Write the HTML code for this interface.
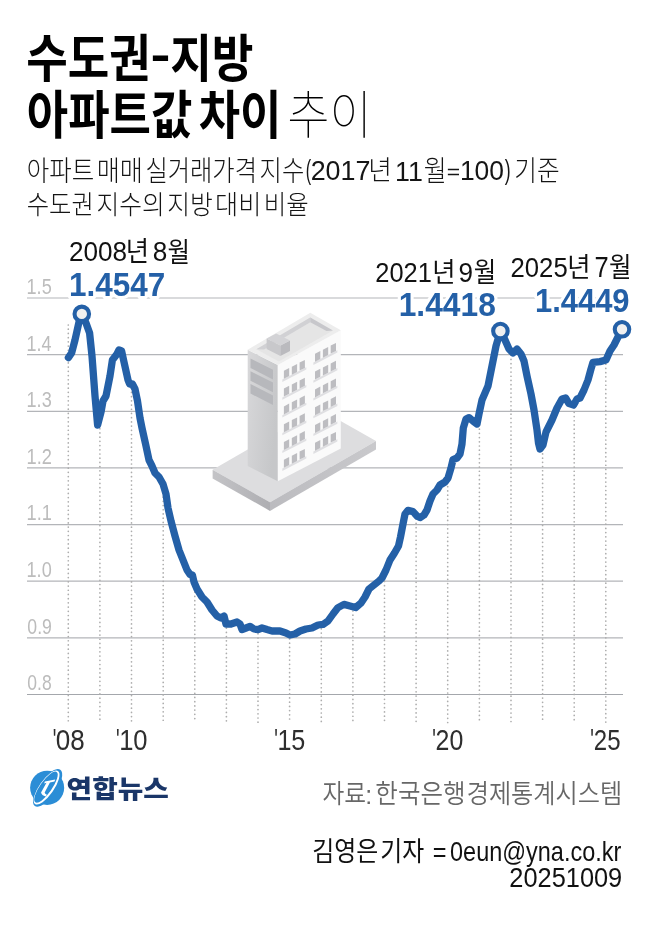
<!DOCTYPE html>
<html lang="ko">
<head>
<meta charset="utf-8">
<title>수도권-지방 아파트값 차이 추이</title>
<style>
html,body{margin:0;padding:0;background:#fff;}
body{width:650px;height:949px;overflow:hidden;}
svg{display:block;}
svg text{font-family:"Liberation Sans", "Noto Sans CJK KR", sans-serif;white-space:pre;}
</style>
</head>
<body>
<svg width="650" height="949" viewBox="0 0 650 949" role="img" aria-label="수도권-지방 아파트값 차이 추이">
<rect width="650" height="949" fill="#ffffff"/>
<g id="grid">
<line x1="27.0" x2="623.0" y1="298.0" y2="298.0" stroke="#b3b5b9" stroke-width="1.2"/>
<line x1="27.0" x2="623.0" y1="354.64" y2="354.64" stroke="#b3b5b9" stroke-width="1.2"/>
<line x1="27.0" x2="623.0" y1="411.3" y2="411.3" stroke="#b3b5b9" stroke-width="1.2"/>
<line x1="27.0" x2="623.0" y1="467.9" y2="467.9" stroke="#b3b5b9" stroke-width="1.2"/>
<line x1="27.0" x2="623.0" y1="524.6" y2="524.6" stroke="#b3b5b9" stroke-width="1.2"/>
<line x1="27.0" x2="623.0" y1="581.2" y2="581.2" stroke="#b3b5b9" stroke-width="1.2"/>
<line x1="27.0" x2="623.0" y1="637.86" y2="637.86" stroke="#b3b5b9" stroke-width="1.2"/>
<line x1="27.0" x2="623.0" y1="694.5" y2="694.5" stroke="#a4a7ac" stroke-width="1.2"/>
<line x1="68.3" x2="68.3" y1="325.0" y2="722.6" stroke="#adadad" stroke-width="1.7" stroke-dasharray="0.01 4.2" stroke-linecap="round"/>
<line x1="99.9" x2="99.9" y1="416.1" y2="722.6" stroke="#adadad" stroke-width="1.7" stroke-dasharray="0.01 4.2" stroke-linecap="round"/>
<line x1="131.5" x2="131.5" y1="384.0" y2="722.6" stroke="#adadad" stroke-width="1.7" stroke-dasharray="0.01 4.2" stroke-linecap="round"/>
<line x1="163.2" x2="163.2" y1="484.5" y2="722.6" stroke="#adadad" stroke-width="1.7" stroke-dasharray="0.01 4.2" stroke-linecap="round"/>
<line x1="194.8" x2="194.8" y1="583.8" y2="722.6" stroke="#adadad" stroke-width="1.7" stroke-dasharray="0.01 4.2" stroke-linecap="round"/>
<line x1="226.4" x2="226.4" y1="624.0" y2="722.6" stroke="#adadad" stroke-width="1.7" stroke-dasharray="0.01 4.2" stroke-linecap="round"/>
<line x1="258.0" x2="258.0" y1="629.6" y2="722.6" stroke="#adadad" stroke-width="1.7" stroke-dasharray="0.01 4.2" stroke-linecap="round"/>
<line x1="289.6" x2="289.6" y1="634.8" y2="722.6" stroke="#adadad" stroke-width="1.7" stroke-dasharray="0.01 4.2" stroke-linecap="round"/>
<line x1="321.3" x2="321.3" y1="624.6" y2="722.6" stroke="#adadad" stroke-width="1.7" stroke-dasharray="0.01 4.2" stroke-linecap="round"/>
<line x1="352.9" x2="352.9" y1="606.8" y2="722.6" stroke="#adadad" stroke-width="1.7" stroke-dasharray="0.01 4.2" stroke-linecap="round"/>
<line x1="384.5" x2="384.5" y1="573.0" y2="722.6" stroke="#adadad" stroke-width="1.7" stroke-dasharray="0.01 4.2" stroke-linecap="round"/>
<line x1="416.1" x2="416.1" y1="515.0" y2="722.6" stroke="#adadad" stroke-width="1.7" stroke-dasharray="0.01 4.2" stroke-linecap="round"/>
<line x1="447.7" x2="447.7" y1="478.3" y2="722.6" stroke="#adadad" stroke-width="1.7" stroke-dasharray="0.01 4.2" stroke-linecap="round"/>
<line x1="479.4" x2="479.4" y1="412.3" y2="722.6" stroke="#adadad" stroke-width="1.7" stroke-dasharray="0.01 4.2" stroke-linecap="round"/>
<line x1="511.0" x2="511.0" y1="351.0" y2="722.6" stroke="#adadad" stroke-width="1.7" stroke-dasharray="0.01 4.2" stroke-linecap="round"/>
<line x1="542.6" x2="542.6" y1="445.5" y2="722.6" stroke="#adadad" stroke-width="1.7" stroke-dasharray="0.01 4.2" stroke-linecap="round"/>
<line x1="574.2" x2="574.2" y1="403.9" y2="722.6" stroke="#adadad" stroke-width="1.7" stroke-dasharray="0.01 4.2" stroke-linecap="round"/>
<line x1="605.8" x2="605.8" y1="360.0" y2="722.6" stroke="#adadad" stroke-width="1.7" stroke-dasharray="0.01 4.2" stroke-linecap="round"/>
</g>
<g id="building">
<defs><linearGradient id="gLeft" x1="0" y1="0" x2="1" y2="0.4"><stop offset="0" stop-color="#d8d8da"/><stop offset="1" stop-color="#c6c7c9"/></linearGradient><linearGradient id="gSlabL" x1="0" y1="0" x2="1" y2="0"><stop offset="0" stop-color="#c4c4c7"/><stop offset="1" stop-color="#aeaeb2"/></linearGradient><linearGradient id="gSlabR" x1="0" y1="0" x2="1" y2="0"><stop offset="0" stop-color="#bbbbbf"/><stop offset="1" stop-color="#c9c9cc"/></linearGradient></defs>
<polygon points="212.6,469.8 318.6,408.5 376.0,441.0 270.0,502.3" fill="#dddddf"/>
<polygon points="212.6,469.8 270.0,502.3 270.0,510.9 212.6,478.4" fill="url(#gSlabL)"/>
<polygon points="270.0,502.3 376.0,441.0 376.0,449.6 270.0,510.9" fill="url(#gSlabR)"/>
<polygon points="247.7,349.7 277.8,365.0 277.8,481.3 247.7,466.0" fill="url(#gLeft)"/>
<polygon points="277.8,365.0 340.8,330.2 340.8,448.6 277.8,481.3" fill="#fafafa"/>
<polygon points="247.7,349.7 310.3,312.7 340.8,330.2 277.8,365.0" fill="#ededed"/>
<polygon points="256.4,349.3 310.3,317.6 332.9,330.4 278.8,361.5" fill="#e5e5e5"/>
<polygon points="256.4,349.3 310.3,317.6 310.3,322.2 264.0,349.5" fill="#d1d1d4"/>
<polygon points="310.3,317.6 332.9,330.4 326.5,331.0 310.3,322.2" fill="#c7c7cb"/>
<polygon points="266.6,338.6 280.4,345.6 280.4,355.9 266.6,348.9" fill="#c8c8cb"/>
<polygon points="280.4,345.6 290.0,340.6 290.0,350.9 280.4,355.9" fill="#bababe"/>
<polygon points="266.6,338.6 276.2,333.6 290.0,340.6 280.4,345.6" fill="#d3d3d6"/>
<polygon points="250.5,358.4 273.0,369.8 273.0,379.4 250.5,368.0" fill="#b7b8bc"/>
<polygon points="250.5,371.2 273.0,382.6 273.0,392.2 250.5,380.8" fill="#b7b8bc"/>
<polygon points="250.5,384.0 273.0,395.4 273.0,405.0 250.5,393.6" fill="#b7b8bc"/>
<polygon points="282.3,379.6 306.3,367.2 306.3,369.5 282.3,381.9" fill="#dfdfe2"/>
<polygon points="283.9,370.8 289.2,368.0 289.2,376.0 283.9,378.8" fill="#bdbdc1"/>
<polygon points="291.8,366.7 297.1,364.0 297.1,372.0 291.8,374.7" fill="#bdbdc1"/>
<polygon points="299.6,362.6 304.9,359.9 304.9,367.9 299.6,370.6" fill="#bdbdc1"/>
<polygon points="282.3,397.4 306.3,385.0 306.3,387.3 282.3,399.7" fill="#dfdfe2"/>
<polygon points="283.9,388.6 289.2,385.8 289.2,393.8 283.9,396.6" fill="#bdbdc1"/>
<polygon points="291.8,384.5 297.1,381.8 297.1,389.8 291.8,392.5" fill="#bdbdc1"/>
<polygon points="299.6,380.4 304.9,377.7 304.9,385.7 299.6,388.4" fill="#bdbdc1"/>
<polygon points="282.3,415.2 306.3,402.8 306.3,405.1 282.3,417.5" fill="#dfdfe2"/>
<polygon points="283.9,406.4 289.2,403.6 289.2,411.6 283.9,414.4" fill="#bdbdc1"/>
<polygon points="291.8,402.3 297.1,399.6 297.1,407.6 291.8,410.3" fill="#bdbdc1"/>
<polygon points="299.6,398.2 304.9,395.5 304.9,403.5 299.6,406.2" fill="#bdbdc1"/>
<polygon points="282.3,433.0 306.3,420.6 306.3,422.9 282.3,435.3" fill="#dfdfe2"/>
<polygon points="283.9,424.2 289.2,421.4 289.2,429.4 283.9,432.2" fill="#bdbdc1"/>
<polygon points="291.8,420.1 297.1,417.4 297.1,425.4 291.8,428.1" fill="#bdbdc1"/>
<polygon points="299.6,416.0 304.9,413.3 304.9,421.3 299.6,424.0" fill="#bdbdc1"/>
<polygon points="282.3,450.8 306.3,438.4 306.3,440.7 282.3,453.1" fill="#dfdfe2"/>
<polygon points="283.9,442.0 289.2,439.2 289.2,447.2 283.9,450.0" fill="#bdbdc1"/>
<polygon points="291.8,437.9 297.1,435.2 297.1,443.2 291.8,445.9" fill="#bdbdc1"/>
<polygon points="299.6,433.8 304.9,431.1 304.9,439.1 299.6,441.8" fill="#bdbdc1"/>
<polygon points="282.3,468.6 306.3,456.2 306.3,458.5 282.3,470.9" fill="#dfdfe2"/>
<polygon points="283.9,459.8 289.2,457.0 289.2,465.0 283.9,467.8" fill="#bdbdc1"/>
<polygon points="291.8,455.7 297.1,453.0 297.1,461.0 291.8,463.7" fill="#bdbdc1"/>
<polygon points="299.6,451.6 304.9,448.9 304.9,456.9 299.6,459.6" fill="#bdbdc1"/>
<polygon points="313.4,362.6 337.4,350.2 337.4,352.5 313.4,364.9" fill="#dfdfe2"/>
<polygon points="315.0,353.8 320.3,351.0 320.3,359.0 315.0,361.8" fill="#bdbdc1"/>
<polygon points="322.9,349.7 328.2,347.0 328.2,355.0 322.9,357.7" fill="#bdbdc1"/>
<polygon points="330.7,345.6 336.0,342.9 336.0,350.9 330.7,353.6" fill="#bdbdc1"/>
<polygon points="313.4,380.4 337.4,368.0 337.4,370.3 313.4,382.7" fill="#dfdfe2"/>
<polygon points="315.0,371.6 320.3,368.8 320.3,376.8 315.0,379.6" fill="#bdbdc1"/>
<polygon points="322.9,367.5 328.2,364.8 328.2,372.8 322.9,375.5" fill="#bdbdc1"/>
<polygon points="330.7,363.4 336.0,360.7 336.0,368.7 330.7,371.4" fill="#bdbdc1"/>
<polygon points="313.4,398.2 337.4,385.8 337.4,388.1 313.4,400.5" fill="#dfdfe2"/>
<polygon points="315.0,389.4 320.3,386.6 320.3,394.6 315.0,397.4" fill="#bdbdc1"/>
<polygon points="322.9,385.3 328.2,382.6 328.2,390.6 322.9,393.3" fill="#bdbdc1"/>
<polygon points="330.7,381.2 336.0,378.5 336.0,386.5 330.7,389.2" fill="#bdbdc1"/>
<polygon points="313.4,416.0 337.4,403.6 337.4,405.9 313.4,418.3" fill="#dfdfe2"/>
<polygon points="315.0,407.2 320.3,404.4 320.3,412.4 315.0,415.2" fill="#bdbdc1"/>
<polygon points="322.9,403.1 328.2,400.4 328.2,408.4 322.9,411.1" fill="#bdbdc1"/>
<polygon points="330.7,399.0 336.0,396.3 336.0,404.3 330.7,407.0" fill="#bdbdc1"/>
<polygon points="313.4,433.8 337.4,421.4 337.4,423.7 313.4,436.1" fill="#dfdfe2"/>
<polygon points="315.0,425.0 320.3,422.2 320.3,430.2 315.0,433.0" fill="#bdbdc1"/>
<polygon points="322.9,420.9 328.2,418.2 328.2,426.2 322.9,428.9" fill="#bdbdc1"/>
<polygon points="330.7,416.8 336.0,414.1 336.0,422.1 330.7,424.8" fill="#bdbdc1"/>
<polygon points="313.4,451.6 337.4,439.2 337.4,441.5 313.4,453.9" fill="#dfdfe2"/>
<polygon points="315.0,442.8 320.3,440.0 320.3,448.0 315.0,450.8" fill="#bdbdc1"/>
<polygon points="322.9,438.7 328.2,436.0 328.2,444.0 322.9,446.7" fill="#bdbdc1"/>
<polygon points="330.7,434.6 336.0,431.9 336.0,439.9 330.7,442.6" fill="#bdbdc1"/>
</g>
<g id="curve">
<path d="M68.4 357.6 L71.6 353.0 L75.0 340.0 L79.0 322.0 L81.8 313.9 L86.0 323.0 L89.6 333.0 L92.0 356.0 L95.0 396.0 L97.6 425.0 L101.0 412.0 L103.0 401.0 L106.0 396.0 L110.0 376.0 L112.4 360.0 L117.0 354.0 L119.0 350.0 L121.6 351.0 L124.0 362.0 L128.0 380.0 L129.6 384.0 L132.4 384.0 L135.0 389.0 L137.5 401.0 L140.0 418.0 L142.0 428.0 L146.0 446.0 L149.0 460.0 L152.0 466.0 L155.0 473.0 L159.0 477.0 L163.0 484.0 L166.0 494.0 L168.0 508.0 L171.0 521.0 L175.0 536.0 L179.0 550.0 L183.0 560.0 L187.0 570.0 L190.0 574.4 L192.4 575.0 L194.0 582.0 L197.0 589.0 L202.0 597.0 L207.0 602.0 L212.0 610.0 L217.0 616.0 L221.0 618.0 L224.0 616.0 L226.0 624.0 L231.0 624.0 L237.0 622.0 L240.0 624.0 L242.0 629.6 L246.0 628.0 L250.0 626.4 L254.0 629.0 L258.0 629.6 L262.0 628.0 L267.0 629.6 L272.0 631.0 L280.0 631.0 L286.0 633.0 L290.0 635.0 L295.0 634.0 L300.0 631.0 L306.0 629.0 L312.0 628.0 L318.0 625.0 L323.0 624.4 L328.0 621.0 L333.0 614.0 L338.0 607.6 L344.0 604.4 L350.0 606.0 L355.6 607.6 L361.0 603.0 L365.0 597.0 L369.0 589.0 L374.0 585.0 L379.0 581.0 L382.0 578.0 L386.0 570.0 L390.0 560.0 L394.5 553.0 L398.5 546.0 L400.5 537.0 L403.0 524.0 L405.0 514.0 L408.0 510.4 L413.0 511.6 L417.0 516.0 L420.0 517.6 L424.0 515.0 L427.0 510.0 L430.0 501.0 L433.0 494.0 L437.0 490.0 L440.0 485.0 L445.0 482.0 L448.0 478.0 L451.0 468.0 L453.0 459.6 L457.0 458.0 L460.0 454.0 L462.0 444.0 L463.3 428.0 L466.0 419.0 L469.0 417.6 L473.0 421.0 L477.0 424.0 L479.0 414.0 L482.0 400.0 L488.0 386.0 L492.0 366.0 L496.0 346.0 L500.4 331.0 L505.0 340.0 L509.0 349.0 L513.0 353.0 L517.0 349.0 L521.0 354.0 L524.0 361.0 L527.0 376.0 L531.0 394.0 L534.0 410.0 L537.0 430.0 L538.5 443.0 L540.0 449.0 L543.0 445.0 L546.0 432.0 L552.0 420.0 L557.0 408.0 L562.0 399.0 L565.6 398.0 L569.0 403.6 L573.6 405.0 L577.0 399.0 L580.0 398.0 L584.0 390.0 L588.0 380.0 L591.0 369.0 L593.0 362.4 L600.0 361.6 L606.0 360.0 L610.0 351.0 L614.0 345.0 L618.0 337.0 L622.0 329.5" fill="none" stroke="#2460a7" stroke-width="7.3" stroke-linejoin="round" stroke-linecap="round"/>
<circle cx="81.8" cy="313.9" r="7.25" fill="#f0f0f0" stroke="#2460a7" stroke-width="4.1"/>
<circle cx="500.4" cy="331.0" r="7.25" fill="#f0f0f0" stroke="#2460a7" stroke-width="4.1"/>
<circle cx="622.0" cy="329.3" r="7.25" fill="#f0f0f0" stroke="#2460a7" stroke-width="4.1"/>
</g>
<g id="logo">
<g transform="translate(25 765) scale(0.06923)">
<circle cx="320" cy="330" r="246" fill="#2b8dd6"/>
<ellipse cx="326" cy="330" rx="320" ry="128" transform="rotate(-55 326 330)" fill="#2b8dd6"/>
<path d="M477.3 88.4 A290 105 -55 1 1 144.7 563.6 A290 105 -55 1 1 477.3 88.4 Z M456.7 100.5 A268 84 -55 1 1 149.3 539.5 A268 84 -55 1 1 456.7 100.5 Z" fill="#ffffff" fill-rule="evenodd"/>
<path d="M286 238 L436 208 L426 240 L360 254 L284 398 Q286 420 316 430 L300 454 Q240 440 232 398 L310 258 L278 266 Z" fill="#ffffff"/>
</g>
</g>
<g id="texts">
<text transform="translate(26.19 77.35) scale(0.8744 1)" font-size="51.61" font-weight="700" fill="#000">수도권</text>
<text transform="translate(150.60 69.93) scale(1.2857 1)" font-size="46.67" font-weight="700" fill="#000">-</text>
<text transform="translate(170.19 77.35) scale(0.8779 1)" font-size="51.61" font-weight="700" fill="#000">지방</text>
<text transform="translate(26.75 133.54) scale(0.8683 1)" font-size="51.83" font-weight="700" fill="#000">아파트값</text>
<text transform="translate(198.65 133.54) scale(0.8683 1)" font-size="51.83" font-weight="700" fill="#000">차이</text>
<text transform="translate(287.34 133.57) scale(0.8871 1)" font-size="51.80" font-weight="100" fill="#000">추이</text>
<text transform="translate(26.79 180.83) scale(0.8669 1)" font-size="28.20" font-weight="300" fill="#151515">아파트</text>
<text transform="translate(96.64 180.83) scale(0.8908 1)" font-size="28.20" font-weight="300" fill="#151515">매매</text>
<text transform="translate(145.40 180.83) scale(0.8610 1)" font-size="28.20" font-weight="300" fill="#151515">실거래가격</text>
<text transform="translate(259.54 180.83) scale(0.8617 1)" font-size="28.20" font-weight="300" fill="#151515">지수</text>
<text transform="translate(514.23 180.83) scale(0.8739 1)" font-size="28.20" font-weight="300" fill="#151515">기준</text>
<text transform="translate(305.83 178.66) scale(0.5709 1)" font-size="28.30" font-weight="400" fill="#151515">(</text>
<text transform="translate(310.66 180.33) scale(0.9840 1)" font-size="27.32" font-weight="400" fill="#151515">2017</text>
<text transform="translate(368.17 180.23) scale(0.9400 1)" font-size="27.36" font-weight="300" fill="#151515">년</text>
<text transform="translate(395.05 180.60) scale(0.9537 1)" font-size="28.12" font-weight="400" fill="#151515">11</text>
<text transform="translate(423.75 181.28) scale(0.8730 1)" font-size="28.64" font-weight="300" fill="#151515">월</text>
<text transform="translate(446.85 178.60) scale(1.1458 1)" font-size="20.00" font-weight="400" fill="#151515">=</text>
<text transform="translate(459.88 180.33) scale(0.9681 1)" font-size="27.32" font-weight="400" fill="#151515">100</text>
<text transform="translate(504.82 178.66) scale(0.6252 1)" font-size="28.30" font-weight="400" fill="#151515">)</text>
<text transform="translate(26.64 213.56) scale(0.9258 1)" font-size="26.29" font-weight="300" fill="#151515">수도권</text>
<text transform="translate(96.52 213.56) scale(0.9397 1)" font-size="26.29" font-weight="300" fill="#151515">지수의</text>
<text transform="translate(167.21 213.56) scale(0.9421 1)" font-size="26.29" font-weight="300" fill="#151515">지방</text>
<text transform="translate(215.04 213.56) scale(0.9568 1)" font-size="26.29" font-weight="300" fill="#151515">대비</text>
<text transform="translate(263.71 213.56) scale(0.9292 1)" font-size="26.29" font-weight="300" fill="#151515">비율</text>
<text transform="translate(68.89 261.02) scale(0.9330 1)" font-size="28.03" font-weight="400" fill="#111">2008</text>
<text transform="translate(125.77 261.34) scale(0.9145 1)" font-size="27.64" font-weight="400" fill="#111">년</text>
<text transform="translate(152.75 261.02) scale(0.9337 1)" font-size="28.03" font-weight="400" fill="#111">8</text>
<text transform="translate(167.38 261.76) scale(0.8790 1)" font-size="27.78" font-weight="400" fill="#111">월</text>
<text transform="translate(69.01 296.07) scale(0.9410 1)" font-size="33.43" font-weight="700" fill="#2460a7" stroke="#fff" stroke-width="6.4" stroke-linejoin="round" paint-order="stroke">1.4547</text>
<text transform="translate(375.33 281.52) scale(0.9210 1)" font-size="27.61" font-weight="400" fill="#111">2021</text>
<text transform="translate(432.17 281.86) scale(0.9258 1)" font-size="27.30" font-weight="400" fill="#111">년</text>
<text transform="translate(458.50 281.52) scale(0.9450 1)" font-size="27.61" font-weight="400" fill="#111">9</text>
<text transform="translate(473.78 282.28) scale(0.8896 1)" font-size="27.44" font-weight="400" fill="#111">월</text>
<text transform="translate(398.69 315.97) scale(0.9675 1)" font-size="32.82" font-weight="700" fill="#2460a7" stroke="#fff" stroke-width="6.4" stroke-linejoin="round" paint-order="stroke">1.4418</text>
<text transform="translate(510.51 276.52) scale(0.9320 1)" font-size="27.61" font-weight="400" fill="#111">2025</text>
<text transform="translate(567.37 276.86) scale(0.9258 1)" font-size="27.30" font-weight="400" fill="#111">년</text>
<text transform="translate(594.43 277.09) scale(0.8824 1)" font-size="28.82" font-weight="400" fill="#111">7</text>
<text transform="translate(608.98 277.28) scale(0.8896 1)" font-size="27.44" font-weight="400" fill="#111">월</text>
<text transform="translate(534.94 311.67) scale(0.9471 1)" font-size="32.68" font-weight="700" fill="#2460a7" stroke="#fff" stroke-width="6.4" stroke-linejoin="round" paint-order="stroke">1.4449</text>
<text transform="translate(26.55 293.88) scale(0.8395 1)" font-size="21.57" font-weight="400" fill="#bcbcbc">1.5</text>
<text transform="translate(26.56 350.52) scale(0.8330 1)" font-size="21.57" font-weight="400" fill="#bcbcbc">1.4</text>
<text transform="translate(26.55 407.18) scale(0.8395 1)" font-size="21.57" font-weight="400" fill="#bcbcbc">1.3</text>
<text transform="translate(26.54 463.78) scale(0.8462 1)" font-size="21.57" font-weight="400" fill="#bcbcbc">1.2</text>
<text transform="translate(26.54 520.48) scale(0.8462 1)" font-size="21.57" font-weight="400" fill="#bcbcbc">1.1</text>
<text transform="translate(26.55 577.08) scale(0.8395 1)" font-size="21.57" font-weight="400" fill="#bcbcbc">1.0</text>
<text transform="translate(27.29 633.74) scale(0.8202 1)" font-size="21.57" font-weight="400" fill="#bcbcbc">0.9</text>
<text transform="translate(27.30 690.38) scale(0.8139 1)" font-size="21.57" font-weight="400" fill="#bcbcbc">0.8</text>
<text transform="translate(52.86 750.73) scale(0.6111 1)" font-size="30.91" font-weight="400" fill="#2e2e2e">'</text>
<text transform="translate(55.76 749.91) scale(0.8882 1)" font-size="29.30" font-weight="400" fill="#2e2e2e">08</text>
<text transform="translate(115.96 750.73) scale(0.6111 1)" font-size="30.91" font-weight="400" fill="#2e2e2e">'</text>
<text transform="translate(119.16 749.91) scale(0.8723 1)" font-size="29.30" font-weight="400" fill="#2e2e2e">10</text>
<text transform="translate(274.26 750.73) scale(0.6111 1)" font-size="30.91" font-weight="400" fill="#2e2e2e">'</text>
<text transform="translate(277.39 749.91) scale(0.8585 1)" font-size="29.30" font-weight="400" fill="#2e2e2e">15</text>
<text transform="translate(432.16 750.73) scale(0.6111 1)" font-size="30.91" font-weight="400" fill="#2e2e2e">'</text>
<text transform="translate(435.55 749.91) scale(0.8500 1)" font-size="29.30" font-weight="400" fill="#2e2e2e">20</text>
<text transform="translate(590.16 750.73) scale(0.6111 1)" font-size="30.91" font-weight="400" fill="#2e2e2e">'</text>
<text transform="translate(593.80 749.91) scale(0.8199 1)" font-size="29.30" font-weight="400" fill="#2e2e2e">25</text>
<text transform="translate(66.61 798.08) scale(1.1039 1)" font-size="25.16" font-weight="900" fill="#1a3668">연합뉴스</text>
<text transform="translate(322.45 803.47) scale(0.8917 1)" font-size="26.59" font-weight="350" fill="#676767">자료</text>
<text transform="translate(375.37 803.47) scale(0.9219 1)" font-size="26.59" font-weight="350" fill="#676767">한국은행</text>
<text transform="translate(466.71 803.47) scale(0.9082 1)" font-size="26.59" font-weight="350" fill="#676767">경제통계시스템</text>
<text transform="translate(365.25 803.60) scale(1.0038 1)" font-size="24.91" font-weight="400" fill="#676767">:</text>
<text transform="translate(312.36 861.41) scale(0.8744 1)" font-size="27.36" font-weight="400" fill="#111">김영은</text>
<text transform="translate(380.17 861.41) scale(0.8729 1)" font-size="27.36" font-weight="400" fill="#111">기자</text>
<text transform="translate(432.72 861.83) scale(0.8278 1)" font-size="28.44" font-weight="400" fill="#111">=</text>
<text transform="translate(450.06 860.71) scale(0.8522 1)" font-size="27.55" font-weight="400" fill="#111">0eun@yna.co.kr</text>
<text transform="translate(509.33 887.32) scale(0.9101 1)" font-size="27.89" font-weight="400" fill="#111">20251009</text>
</g>
</svg>
</body>
</html>
